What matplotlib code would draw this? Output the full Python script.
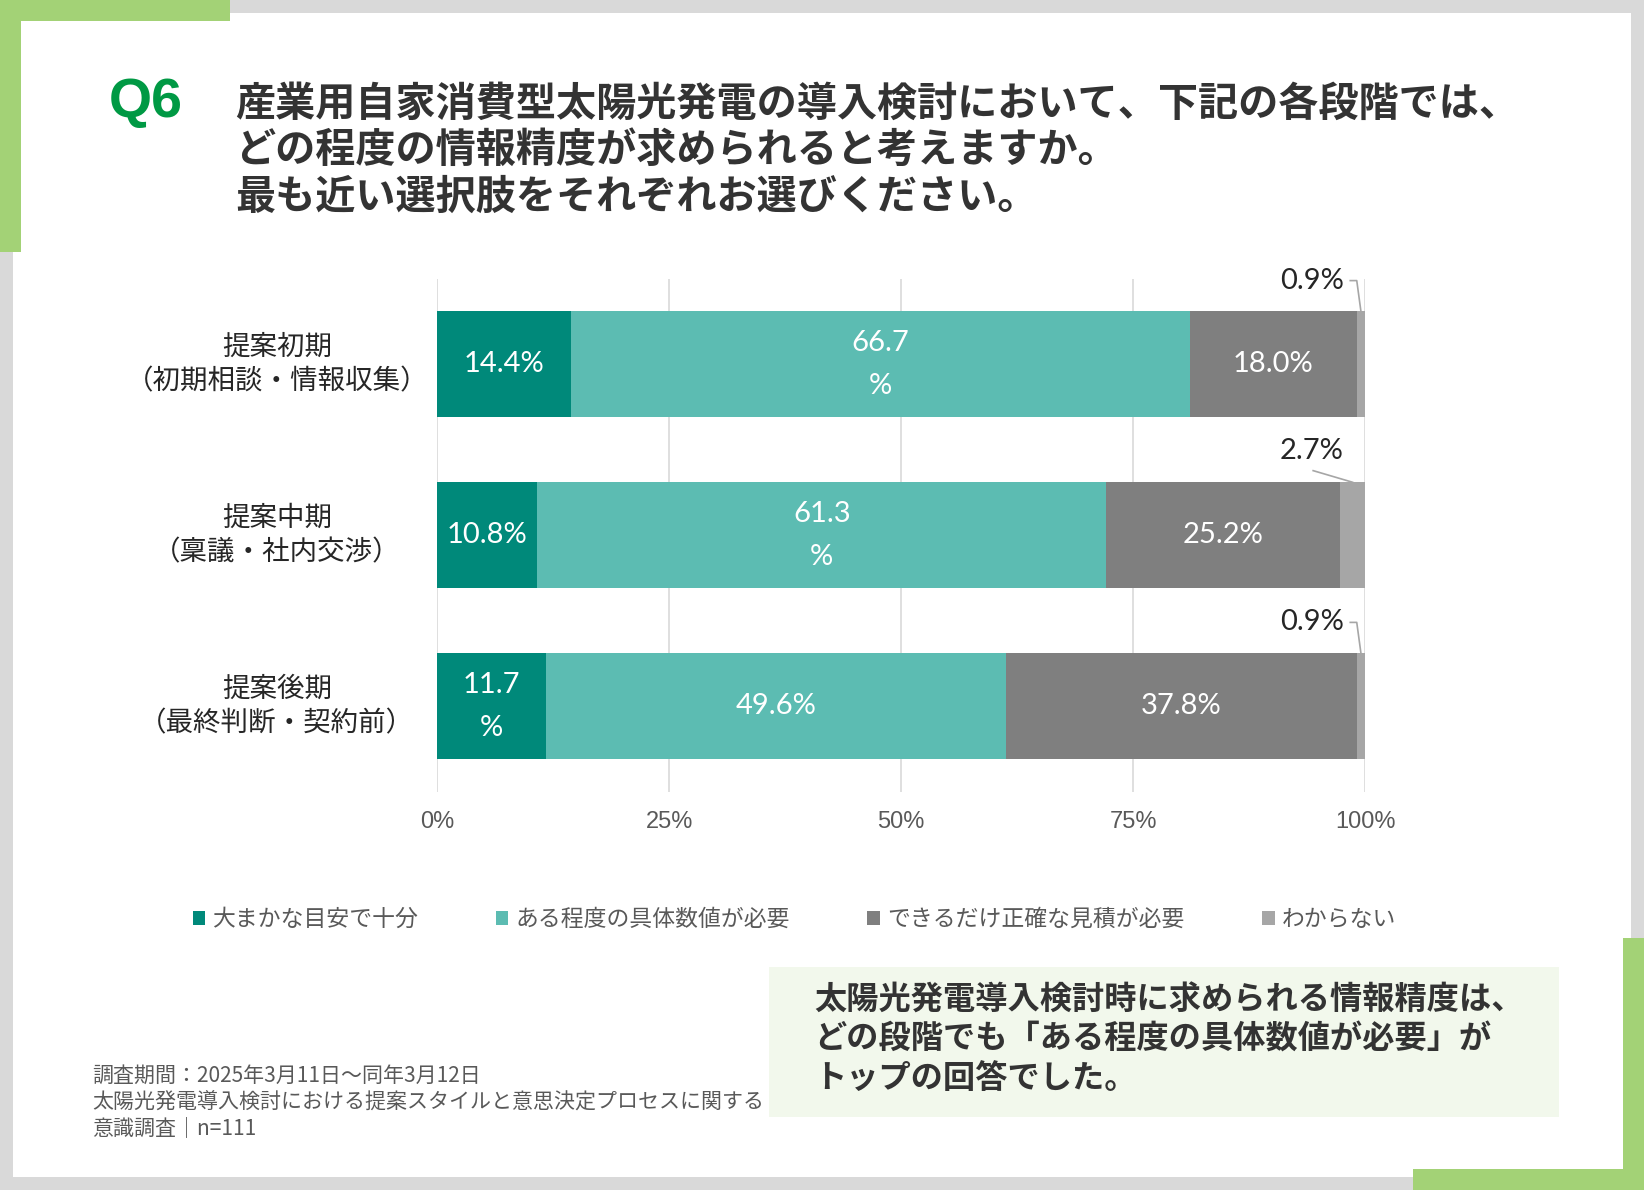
import matplotlib
matplotlib.use('Agg')
import matplotlib.pyplot as plt
from matplotlib.patches import Rectangle, Patch
from matplotlib.transforms import blended_transform_factory

plt.rcParams['font.family'] = ['Noto Sans CJK JP', 'DejaVu Sans']

# データ
categories = ['提案初期\n（初期相談・情報収集）', '提案中期\n（稟議・社内交渉）', '提案後期\n（最終判断・契約前）']
series_names = ['大まかな目安で十分', 'ある程度の具体数値が必要', 'できるだけ正確な見積が必要', 'わからない']
rough = [14.4, 10.8, 11.7]
some = [66.7, 61.3, 49.6]
exact = [18.0, 25.2, 37.8]
unknown = [0.9, 2.7, 0.9]
label_rough = ['14.4%', '10.8%', '11.7\n%']
label_some = ['66.7\n%', '61.3\n%', '49.6%']
label_exact = ['18.0%', '25.2%', '37.8%']
label_unknown = ['0.9%', '2.7%', '0.9%']
x_ticks = [0, 25, 50, 75, 100]
x_tick_labels = ['0%', '25%', '50%', '75%', '100%']

colors = ['#00897a', '#5cbcb2', '#7f7f7f', '#a6a6a6']
green = '#a3d276'

W, H = 1568, 1135


def fx(x):
    return x / W


def fy(y):
    return 1 - y / H


fig = plt.figure(figsize=(16.44, 11.90), dpi=100)
fig.patch.set_facecolor('#d9d9d9')


def rect(x0, y0, x1, y1, color, z):
    fig.add_artist(Rectangle((fx(x0), fy(y1)), fx(x1) - fx(x0), fy(y0) - fy(y1),
                             transform=fig.transFigure, facecolor=color,
                             edgecolor='none', zorder=z))


# 台紙と飾り
rect(12, 12, 1556, 1123, 'white', -20)
rect(0, 0, 219, 20, green, -15)
rect(0, 0, 20, 240, green, -15)
rect(1548, 895, 1568, 1135, green, -15)
rect(1348, 1115, 1568, 1135, green, -15)
rect(733, 922, 1487, 1065, '#f2f8ec', -10)

# タイトル
fig.text(fx(104), fy(98), 'Q6', color='#009944', fontsize=40, fontweight='bold',
         family='Liberation Sans', ha='left', va='center')
title_lines = ['産業用自家消費型太陽光発電の導入検討において、下記の各段階では、',
               'どの程度の情報精度が求められると考えますか。',
               '最も近い選択肢をそれぞれお選びください。']
for i, line in enumerate(title_lines):
    fig.text(fx(224), fy(99 + 44.5 * i), line, color='#333333', fontsize=28.9,
             fontweight='bold', ha='left', va='center')

# グラフ
ax = fig.add_axes([fx(417), fy(755), fx(1302) - fx(417), fy(266) - fy(755)])
ax.set_facecolor('none')
rows = list(range(len(categories)))
bar_h = 0.62
all_vals = [rough, some, exact, unknown]
all_labels = [label_rough, label_some, label_exact, label_unknown]
lefts = [0.0] * len(rows)
for k, vals in enumerate(all_vals):
    ax.barh(rows, vals, left=lefts, height=bar_h, color=colors[k], zorder=3,
            label=series_names[k])
    for r in rows:
        cx = lefts[r] + vals[r] / 2
        if k < 3:
            ax.text(cx, r, all_labels[k][r], color='white', fontsize=21,
                    family='Lato', ha='center', va='center', linespacing=1.8, zorder=5)
        else:
            top = r - bar_h / 2
            ax.text(97.7, r - 0.49, all_labels[k][r], color='#262626', fontsize=21,
                    family='Lato', ha='right', va='center', zorder=5)
            if vals[r] < 2:
                ax.plot([98.4, 99.1, cx], [r - 0.49, r - 0.49, top], color='#a6a6a6',
                        lw=1.2, zorder=4, clip_on=False)
            else:
                ax.plot([94.4, cx], [r - 0.378, top], color='#a6a6a6',
                        lw=1.2, zorder=4, clip_on=False)
    lefts = [lefts[r] + vals[r] for r in rows]

ax.set_xlim(0, 100)
ax.set_ylim(2.5, -0.5)
ax.set_xticks(x_ticks)
ax.set_xticklabels(x_tick_labels, family='Liberation Sans', fontsize=17, color='#595959')
ax.set_yticks([])
ax.tick_params(axis='x', length=0, pad=14)
ax.grid(axis='x', color='#d9d9d9', lw=1.2, zorder=0)
for s in ax.spines.values():
    s.set_visible(False)

# 項目名
tr = blended_transform_factory(fig.transFigure, ax.transData)
for r, cat in zip(rows, categories):
    ax.text(fx(264), r, cat, transform=tr, ha='center', va='center', fontsize=19.8,
            color='#262626', linespacing=1.36)

# 凡例
handles = [Patch(facecolor=c, edgecolor='none') for c in colors]
fig.legend(handles, series_names, loc='center left', bbox_to_anchor=(fx(184), fy(877)),
           ncol=4, frameon=False, fontsize=16.45, handlelength=0.55, handleheight=0.55,
           handletextpad=0.3, columnspacing=3.4, borderaxespad=0, borderpad=0,
           labelcolor='#595959')

# まとめ
summary_lines = ['太陽光発電導入検討時に求められる情報精度は、',
                 'どの段階でも「ある程度の具体数値が必要」が',
                 'トップの回答でした。']
for i, line in enumerate(summary_lines):
    fig.text(fx(777), fy(954 + 37.5 * i), line, color='#333333', fontsize=23.2,
             fontweight='bold', ha='left', va='center')

# 注記
note_lines = ['調査期間：2025年3月11日～同年3月12日',
              '太陽光発電導入検討における提案スタイルと意思決定プロセスに関する',
              '意識調査｜n=111']
for i, line in enumerate(note_lines):
    fig.text(fx(88), fy(1026 + 25 * i), line, color='#595959', fontsize=15.1,
             ha='left', va='center')

fig.savefig('out.png', dpi=100, facecolor=fig.get_facecolor())
